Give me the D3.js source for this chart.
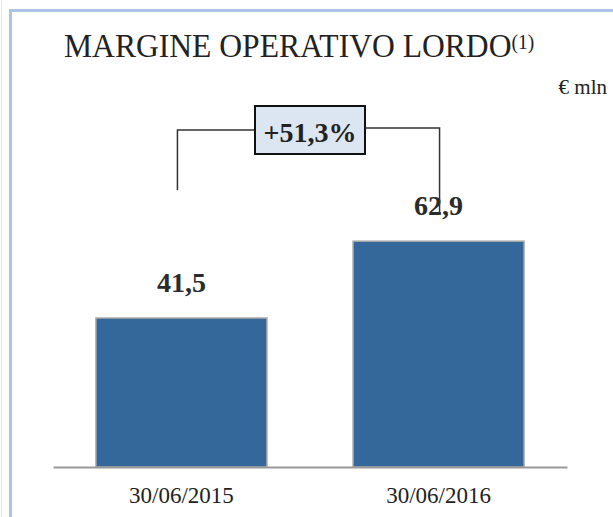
<!DOCTYPE html>
<html>
<head>
<meta charset="utf-8">
<script src="https://cdn.jsdelivr.net/npm/d3@7"></script>
<style>
  html, body { margin: 0; padding: 0; background: #fff; }
  svg { display: block; }
</style>
</head>
<body>
<svg id="chart" width="613" height="517"></svg>
<script>
// dati del grafico
const categories = ["30/06/2015", "30/06/2016"];
const values = [41.5, 62.9];
const valueLabels = ["41,5", "62,9"];
const changeLabel = "+51,3%";
const title = "MARGINE OPERATIVO LORDO";
const titleNote = "(1)";
const unitLabel = "€ mln";

const W = 613, H = 517;
const serif = "'Liberation Serif', 'DejaVu Serif', serif";

const svg = d3.select("#chart");

// cornice azzurra
svg.append("line")
    .attr("x1", 1.5).attr("x2", 1.5).attr("y1", 0).attr("y2", H)
    .attr("stroke", "#dde8f4").attr("stroke-width", 1);
svg.append("path")
    .attr("d", `M10.5,${H} V10.5 H${W}`)
    .attr("fill", "none")
    .attr("stroke", "#a9c5e3")
    .attr("stroke-width", 3);

// titolo (leggermente allungato in verticale, come il Palatino originale)
const t = svg.append("text")
    .attr("transform", "translate(64,57) scale(1,1.08)")
    .style("font-family", serif)
    .style("font-size", "31.6px")
    .style("fill", "#222");
t.append("tspan").text(title);
t.append("tspan")
    .attr("dy", -7)
    .style("font-size", "19.5px")
    .text(titleNote);

svg.append("text")
    .attr("x", 607).attr("y", 94)
    .attr("text-anchor", "end")
    .style("font-family", serif)
    .style("font-size", "21px")
    .style("fill", "#222")
    .text(unitLabel);

// scale
const x = d3.scaleBand()
    .domain(categories)
    .range([53, 567])
    .paddingInner(0.335)
    .paddingOuter(0.167);

const y = d3.scaleLinear()
    .domain([0, 100])
    .range([467, 108]);

// barre
svg.selectAll(".bar")
    .data(values)
    .enter()
    .append("rect")
    .attr("class", "bar")
    .attr("x", (d, i) => x(categories[i]))
    .attr("width", x.bandwidth())
    .attr("y", d => y(d))
    .attr("height", d => y(0) - y(d))
    .attr("fill", "#34679a")
    .attr("stroke", "#a8a8a8")
    .attr("stroke-width", 1.5);

// asse x
const xAxis = svg.append("g")
    .attr("transform", `translate(0,${y(0)})`)
    .call(d3.axisBottom(x).tickSize(0).tickPadding(20));
xAxis.select(".domain")
    .attr("stroke", "#999")
    .attr("stroke-width", 2);
xAxis.selectAll("text")
    .style("font-family", serif)
    .style("font-size", "23px")
    .style("fill", "#222");

// etichette valori
svg.selectAll(".val")
    .data(values)
    .enter()
    .append("text")
    .attr("class", "val")
    .attr("x", (d, i) => x(categories[i]) + x.bandwidth() / 2)
    .attr("y", d => y(d) - 26)
    .attr("text-anchor", "middle")
    .style("font-family", serif)
    .style("font-size", "28px")
    .style("font-weight", "bold")
    .style("fill", "#2b2b2b")
    .text((d, i) => valueLabels[i]);

// parentesi della variazione
const cx0 = x(categories[0]) + x.bandwidth() / 2;
const cx1 = x(categories[1]) + x.bandwidth() / 2;
const boxW = 110, boxH = 48;
const boxX = (cx0 + cx1) / 2 - boxW / 2, boxY = 106;

svg.append("path")
    .attr("d", `M${cx0 - 4},190 V130 H${boxX}`)
    .attr("fill", "none").attr("stroke", "#333").attr("stroke-width", 1.5);
svg.append("path")
    .attr("d", `M${boxX + boxW},128 H${cx1 + 1} V215`)
    .attr("fill", "none").attr("stroke", "#333").attr("stroke-width", 1.5);

svg.append("rect")
    .attr("x", boxX).attr("y", boxY)
    .attr("width", boxW).attr("height", boxH)
    .attr("fill", "#dce6f2")
    .attr("stroke", "#111")
    .attr("stroke-width", 2);

svg.append("text")
    .attr("x", boxX + boxW / 2).attr("y", boxY + 36)
    .attr("text-anchor", "middle")
    .style("font-family", serif)
    .style("font-size", "28px")
    .style("font-weight", "bold")
    .style("fill", "#222")
    .text(changeLabel);
</script>
</body>
</html>
